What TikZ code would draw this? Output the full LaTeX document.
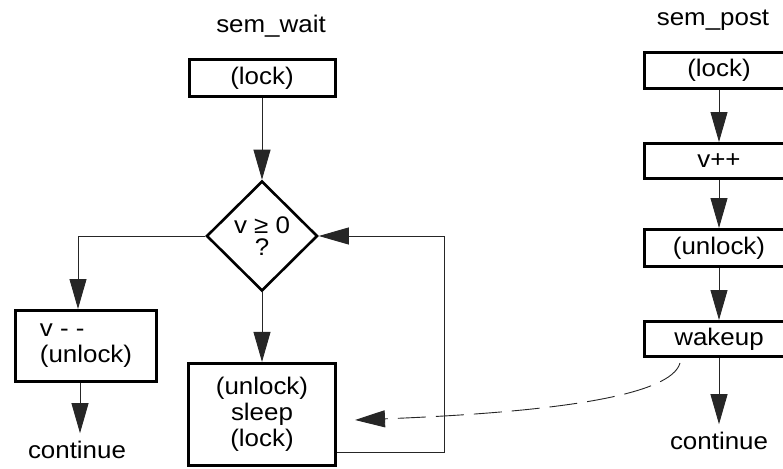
\documentclass[tikz,border=0pt]{standalone}
\usepackage{fontspec}
\setmainfont{Liberation Sans}[FakeStretch=1.08]
\usepackage{tikz}
\usetikzlibrary{arrows.meta,shapes.geometric}

\begin{document}
\begin{tikzpicture}[x=1pt,y=-1pt,
  font=\fontsize{24}{26}\selectfont,
  box/.style={draw, line width=3pt, inner sep=0pt, align=center},
  lbl/.style={inner sep=0pt, outer sep=8pt},
  arr/.style={-{Triangle[length=30pt,width=17pt]}, line width=0.9pt, black!85}]

\useasboundingbox (0,0) rectangle (783,468);

% sem_wait
\node[inner sep=0pt, anchor=base] (titleW) at (271,33) {sem\_wait};
\node[box, minimum width=146, minimum height=37] (lockW) at (262,78) {(lock)};
\node[box, diamond, line width=2.6pt, minimum width=111, minimum height=110] (test) at (262,236) {v ≥ 0\\[-4pt]?};
\node[box, align=left, minimum width=141, minimum height=71] (dec) at (86,346) {v - -\\(unlock)};
\node[lbl] (contW) at (77,450) {continue};
\node[box, line width=3.2pt, minimum width=147, minimum height=102] (sleep) at (262,414.5) {(unlock)\\sleep\\(lock)};

\draw[arr] (lockW) -- (test);
\draw[arr] (test.west) -| ([xshift=-8pt]dec.north);
\draw[arr] (test) -- (sleep);
\draw[arr] ([xshift=-6pt]dec.south) -- ([xshift=-6pt]dec.south |- contW.north);
\draw[arr] ([yshift=-37.5pt]sleep.east) -- ++(107,0) |- (test.east);

% sem_post
\node[inner sep=0pt, anchor=base] (titleP) at (713,26) {sem\_post};
\node[box, minimum width=149, minimum height=36] (lockP) at (719,70.5) {(lock)};
\node[box, minimum width=149, minimum height=35] (incr) at (719,161) {v++};
\node[box, minimum width=149, minimum height=37] (unlockP) at (719,248) {(unlock)};
\node[box, minimum width=149, minimum height=35] (wake) at (719,339) {wakeup};
\node[lbl] (contP) at (719,441) {continue};
\coordinate (sig) at (355,420);

\foreach \a/\b in {lockP/incr, incr/unlockP, unlockP/wake, wake/contP}
{
\draw[arr] (\a) -- (\b);
}

% wakeup signal
\draw[arr, dash pattern=on 28pt off 10pt] ([shift={(37pt,-5pt)}]wake.south west) .. controls +(-9,32) and +(205,-8) .. (sig);

\end{tikzpicture}
\end{document}
